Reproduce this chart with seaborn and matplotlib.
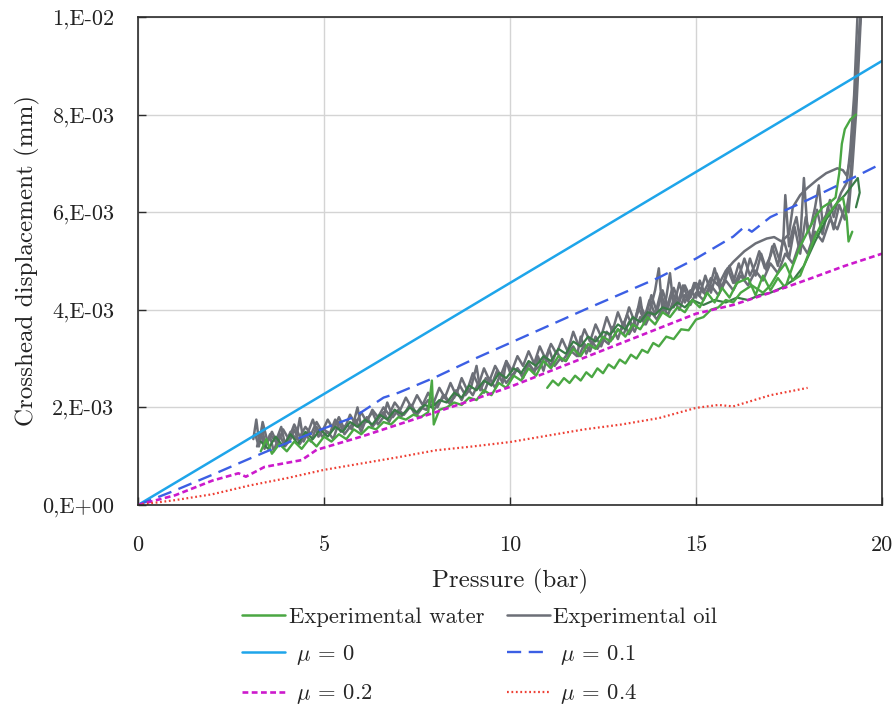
import matplotlib
matplotlib.use("Agg")
import matplotlib.pyplot as plt
from matplotlib.lines import Line2D
import numpy as np
import pandas as pd
import seaborn as sns

# ---------------------------------------------------------------------------
# Data (displacements in micrometres, i.e. 1e-3 mm; pressure in bar)
# ---------------------------------------------------------------------------
mu_0_p = [0.0, 20.0]
mu_0_um = [0.0, 9.1]

mu_01_p = [0, 1, 2, 3, 4, 5, 5.8, 6.3, 6.6, 7, 8, 9, 10, 11, 12, 13, 14, 15,
           16, 16.3, 16.5, 17, 18, 19, 20]
mu_01_um = [0, 0.30, 0.62, 0.95, 1.27, 1.57, 1.80, 2.05, 2.20, 2.30, 2.62, 2.98,
            3.32, 3.66, 4.00, 4.33, 4.66, 5.05, 5.50, 5.70, 5.60, 5.90, 6.25,
            6.62, 7.00]

mu_02_p = [0, 1, 2, 2.7, 2.9, 3.4, 4.4, 4.8, 6, 7, 7.6, 8.75, 10, 11, 12, 13,
           14, 15, 16, 17, 18, 19, 20]
mu_02_um = [0, 0.20, 0.50, 0.65, 0.58, 0.78, 0.92, 1.13, 1.40, 1.65, 1.80, 2.09,
            2.42, 2.72, 3.02, 3.32, 3.62, 3.92, 4.10, 4.35, 4.62, 4.90, 5.15]

mu_04_p = [0, 1, 2, 2.5, 3, 4, 5, 6, 7, 8, 9, 10, 11, 12, 13, 14, 15, 15.6,
           16, 17, 18]
mu_04_um = [0, 0.10, 0.22, 0.31, 0.40, 0.55, 0.72, 0.85, 0.98, 1.12, 1.20, 1.29,
            1.42, 1.55, 1.65, 1.78, 1.99, 2.05, 2.02, 2.25, 2.40]

oil_run_1 = [
    (3.10, 1.35), (3.18, 1.75), (3.26, 1.25), (3.34, 1.60), (3.42, 1.20),
    (3.55, 1.45), (3.70, 1.30), (3.85, 1.60), (3.95, 1.25), (4.10, 1.50),
    (4.25, 1.35), (4.35, 1.78), (4.45, 1.30), (4.60, 1.55), (4.70, 1.75),
    (4.85, 1.40), (5.00, 1.55), (5.15, 1.45), (5.30, 1.75), (5.45, 1.50),
    (5.60, 1.65), (5.75, 1.55), (5.90, 2.00), (6.00, 1.60), (6.15, 1.75),
    (6.30, 1.90), (6.45, 1.65), (6.60, 1.80), (6.70, 2.10), (6.85, 1.80),
    (7.00, 1.95), (7.15, 1.85), (7.30, 2.05), (7.45, 1.85), (7.60, 2.00),
    (7.75, 1.95), (7.90, 2.15), (8.05, 2.00), (8.20, 2.25), (8.35, 2.10),
    (8.50, 2.20), (8.65, 2.45), (8.80, 2.25), (8.95, 2.40), (9.10, 2.85),
    (9.20, 2.35), (9.35, 2.60), (9.50, 2.45), (9.65, 2.75), (9.80, 2.50),
    (9.90, 2.95), (10.05, 2.60), (10.20, 2.80), (10.35, 2.65), (10.50, 2.90),
    (10.65, 2.70), (10.75, 3.05), (10.90, 2.75), (11.05, 3.20), (11.20, 2.85),
    (11.35, 3.00), (11.50, 2.95), (11.65, 3.15), (11.80, 3.05), (11.90, 3.45),
    (12.05, 3.10), (12.20, 3.35), (12.35, 3.20), (12.50, 3.40), (12.65, 3.30),
    (12.75, 3.65), (12.90, 3.40), (13.05, 3.75), (13.20, 3.50), (13.35, 3.70),
    (13.50, 4.25), (13.60, 3.70), (13.75, 3.95), (13.90, 4.40), (14.00, 4.85),
    (14.10, 3.95), (14.20, 4.25), (14.30, 4.75), (14.40, 4.05), (14.55, 4.55),
    (14.70, 4.15), (14.85, 4.40), (15.00, 4.25), (15.10, 4.60), (15.25, 4.30),
    (15.40, 4.55), (15.50, 4.85), (15.65, 4.40), (15.80, 4.65), (15.90, 4.90),
    (16.05, 4.55), (16.20, 4.80), (16.30, 5.05), (16.45, 4.70), (16.60, 4.95),
    (16.70, 5.20), (16.85, 4.85), (17.00, 5.10), (17.10, 5.35), (17.25, 5.00),
    (17.35, 5.50), (17.40, 6.35), (17.50, 5.30), (17.60, 5.65), (17.70, 5.90),
    (17.80, 5.40), (17.90, 6.70), (18.00, 5.60), (18.10, 5.75), (18.20, 6.10),
    (18.30, 6.55), (18.40, 5.80), (18.50, 5.95), (18.60, 6.25), (18.70, 5.90),
    (18.80, 6.20), (18.90, 6.40), (19.05, 6.60), (19.15, 7.30), (19.25, 8.40),
    (19.30, 9.30), (19.35, 10.20), (19.40, 10.60),
]

oil_run_2 = [
    (3.20, 1.20), (3.30, 1.50), (3.40, 1.15), (3.55, 1.40), (3.65, 1.10),
    (3.80, 1.45), (3.95, 1.20), (4.10, 1.35), (4.20, 1.55), (4.35, 1.25),
    (4.50, 1.45), (4.65, 1.30), (4.80, 1.60), (4.95, 1.40), (5.10, 1.50),
    (5.25, 1.35), (5.40, 1.70), (5.55, 1.45), (5.70, 1.60), (5.85, 1.75),
    (6.00, 1.50), (6.15, 1.80), (6.30, 1.60), (6.45, 1.75), (6.60, 1.90),
    (6.75, 1.70), (6.90, 1.95), (7.05, 1.80), (7.20, 1.90), (7.35, 2.05),
    (7.50, 1.85), (7.65, 2.00), (7.80, 2.15), (7.95, 1.95), (8.10, 2.10),
    (8.25, 2.25), (8.40, 2.05), (8.55, 2.35), (8.70, 2.15), (8.85, 2.40),
    (9.00, 2.25), (9.15, 2.50), (9.30, 2.30), (9.45, 2.60), (9.60, 2.40),
    (9.75, 2.70), (9.90, 2.50), (10.05, 2.65), (10.20, 2.80), (10.35, 2.60),
    (10.50, 2.90), (10.65, 2.75), (10.80, 2.85), (10.95, 3.05), (11.10, 2.85),
    (11.25, 3.15), (11.40, 2.95), (11.55, 3.10), (11.70, 3.25), (11.85, 3.05),
    (12.00, 3.30), (12.15, 3.15), (12.30, 3.45), (12.45, 3.25), (12.60, 3.55),
    (12.75, 3.40), (12.90, 3.60), (13.05, 3.50), (13.20, 3.75), (13.35, 3.55),
    (13.50, 3.85), (13.65, 3.70), (13.80, 3.95), (13.95, 3.80), (14.10, 4.05),
    (14.25, 3.90), (14.40, 4.20), (14.55, 4.00), (14.70, 4.30), (14.85, 4.10),
    (15.00, 4.35), (15.20, 4.20), (15.40, 4.50), (15.60, 4.30), (15.80, 4.60),
    (16.00, 4.40), (16.20, 4.70), (16.40, 4.50), (16.60, 4.80), (16.80, 4.60),
    (17.00, 4.95), (17.20, 4.75), (17.40, 5.15), (17.60, 4.95), (17.80, 5.40),
    (18.00, 5.15), (18.20, 5.60), (18.40, 5.40), (18.60, 5.85), (18.80, 5.65),
    (19.00, 6.10), (19.10, 6.00), (19.20, 6.90), (19.30, 8.00), (19.38, 9.20),
    (19.45, 10.30), (19.50, 10.60),
]

oil_run_3 = [
    (3.15, 1.45), (3.25, 1.20), (3.35, 1.70), (3.48, 1.30), (3.60, 1.50),
    (3.75, 1.25), (3.90, 1.55), (4.05, 1.35), (4.20, 1.65), (4.35, 1.40),
    (4.50, 1.60), (4.65, 1.45), (4.80, 1.70), (4.95, 1.50), (5.10, 1.75),
    (5.25, 1.55), (5.40, 1.80), (5.55, 1.55), (5.70, 1.85), (5.85, 1.65),
    (6.00, 1.90), (6.15, 1.70), (6.30, 1.95), (6.45, 1.80), (6.60, 2.00),
    (6.75, 1.85), (6.90, 2.10), (7.05, 1.95), (7.20, 2.20), (7.35, 2.00),
    (7.50, 2.25), (7.65, 2.05), (7.80, 2.30), (7.95, 2.10), (8.10, 2.40),
    (8.25, 2.20), (8.40, 2.50), (8.55, 2.25), (8.70, 2.60), (8.85, 2.35),
    (9.00, 2.70), (9.15, 2.45), (9.30, 2.80), (9.45, 2.55), (9.60, 2.85),
    (9.75, 2.65), (9.90, 2.95), (10.05, 2.75), (10.20, 3.05), (10.35, 2.85),
    (10.50, 3.15), (10.65, 2.90), (10.80, 3.25), (10.95, 3.00), (11.10, 3.30),
    (11.25, 3.10), (11.40, 3.40), (11.55, 3.15), (11.70, 3.55), (11.85, 3.25),
    (12.00, 3.60), (12.15, 3.35), (12.30, 3.70), (12.45, 3.45), (12.60, 3.85),
    (12.75, 3.55), (12.90, 3.95), (13.05, 3.65), (13.20, 4.05), (13.35, 3.75),
    (13.50, 4.10), (13.65, 3.85), (13.80, 4.30), (13.95, 3.95), (14.10, 4.40),
    (14.25, 4.05), (14.40, 4.45), (14.55, 4.15), (14.70, 4.50), (14.85, 4.25),
    (15.00, 4.55), (15.20, 4.35), (15.40, 4.65), (15.60, 4.50), (15.80, 4.80),
    (16.00, 4.98), (16.30, 5.20), (16.60, 5.36), (16.90, 5.46), (17.10, 5.49),
    (17.30, 5.40), (17.50, 5.55), (17.60, 6.10), (17.80, 6.35), (18.00, 6.50),
    (18.25, 6.66), (18.50, 6.80), (18.80, 6.90), (18.95, 6.86), (19.05, 6.75),
    (19.15, 7.10), (19.25, 7.80), (19.32, 8.80), (19.40, 9.80), (19.48, 10.60),
]

oil_run_4 = [
    (13.00, 3.60), (13.15, 3.90), (13.30, 3.65), (13.45, 4.05), (13.60, 3.80),
    (13.75, 4.20), (13.90, 3.90), (14.05, 4.35), (14.20, 4.00), (14.35, 4.40),
    (14.50, 4.10), (14.65, 4.50), (14.80, 4.20), (14.95, 4.55), (15.10, 4.30),
    (15.25, 4.70), (15.40, 4.35), (15.55, 4.75), (15.70, 4.45), (15.85, 4.85),
    (16.00, 4.55), (16.15, 4.95), (16.30, 4.60), (16.45, 5.05), (16.60, 4.70),
    (16.75, 5.15), (16.90, 4.80), (17.05, 5.30), (17.20, 4.90), (17.35, 5.45),
    (17.50, 5.05), (17.65, 5.70), (17.80, 5.15), (17.95, 5.90), (18.10, 5.40),
    (18.25, 6.05), (18.40, 5.55), (18.55, 6.10), (18.70, 5.65), (18.85, 6.15),
    (19.00, 5.85), (19.10, 6.30), (19.20, 7.20), (19.30, 8.60), (19.40, 9.80),
    (19.45, 10.60),
]

water_run_1 = [
    (3.30, 1.10), (3.45, 1.35), (3.60, 1.05), (3.80, 1.25), (4.00, 1.10),
    (4.20, 1.30), (4.40, 1.15), (4.60, 1.35), (4.80, 1.20), (5.00, 1.40),
    (5.20, 1.30), (5.40, 1.45), (5.60, 1.35), (5.80, 1.55), (6.00, 1.45),
    (6.20, 1.60), (6.40, 1.55), (6.60, 1.70), (6.80, 1.65), (7.00, 1.80),
    (7.20, 1.75), (7.40, 1.85), (7.60, 1.80), (7.80, 1.90), (7.90, 2.55),
    (7.95, 1.65), (8.10, 1.95), (8.30, 2.00), (8.50, 2.10), (8.70, 2.05),
    (8.90, 2.20), (9.10, 2.15), (9.30, 2.35), (9.50, 2.25), (9.70, 2.50),
    (9.90, 2.40), (10.10, 2.65), (10.30, 2.55), (10.50, 2.80), (10.70, 2.65),
    (10.90, 2.95), (11.10, 2.80), (11.30, 3.05), (11.50, 2.95), (11.70, 3.20),
    (11.90, 3.05), (12.10, 3.30), (12.30, 3.20), (12.50, 3.45), (12.70, 3.35),
    (12.90, 3.60), (13.10, 3.45), (13.30, 3.70), (13.50, 3.60), (13.70, 3.85),
    (13.90, 3.70), (14.10, 3.95), (14.30, 3.85), (14.50, 4.05), (14.70, 3.95),
    (14.90, 4.20), (15.10, 4.05), (15.30, 4.35), (15.50, 4.15), (15.70, 4.45),
    (15.90, 4.25), (16.10, 4.55), (16.40, 4.65), (16.60, 4.30), (16.80, 4.70),
    (17.00, 4.40), (17.20, 4.65), (17.40, 4.45), (17.60, 4.90), (17.80, 5.30),
    (18.00, 5.60), (18.20, 5.90), (18.40, 6.10), (18.60, 6.20), (18.75, 6.30),
    (18.85, 6.80), (18.92, 7.40), (19.00, 7.70), (19.15, 7.90), (19.30, 8.00),
]

water_run_2 = [
    (11.00, 2.40), (11.15, 2.55), (11.30, 2.45), (11.45, 2.60), (11.60, 2.50),
    (11.75, 2.65), (11.90, 2.55), (12.05, 2.72), (12.20, 2.62), (12.35, 2.80),
    (12.50, 2.70), (12.65, 2.88), (12.80, 2.80), (12.95, 2.98), (13.10, 2.90),
    (13.25, 3.08), (13.40, 3.00), (13.55, 3.18), (13.70, 3.12), (13.85, 3.32),
    (14.00, 3.25), (14.20, 3.45), (14.40, 3.40), (14.60, 3.60), (14.80, 3.58),
    (15.00, 3.80), (15.20, 3.85), (15.40, 4.00), (15.60, 4.05), (15.80, 4.20),
    (16.00, 4.15), (16.20, 4.35), (16.50, 4.50), (16.80, 4.35), (17.00, 4.50),
    (17.20, 4.75), (17.40, 4.95), (17.60, 4.60), (17.80, 4.70), (18.00, 5.10),
    (18.20, 5.50), (18.40, 5.80), (18.60, 6.00), (18.80, 6.20), (18.95, 6.30),
    (19.05, 5.90), (19.10, 5.40), (19.20, 5.60),
]

water_run_3 = [
    (3.30, 1.30), (3.50, 1.15), (3.70, 1.40), (3.90, 1.20), (4.10, 1.45),
    (4.30, 1.25), (4.50, 1.50), (4.70, 1.35), (4.90, 1.55), (5.10, 1.40),
    (5.30, 1.60), (5.50, 1.50), (5.70, 1.70), (5.90, 1.60), (6.10, 1.75),
    (6.30, 1.65), (6.50, 1.85), (6.70, 1.75), (6.90, 1.95), (7.10, 1.85),
    (7.30, 2.00), (7.50, 1.90), (7.70, 2.05), (7.90, 2.00), (8.10, 2.15),
    (8.30, 2.10), (8.50, 2.30), (8.70, 2.20), (8.90, 2.45), (9.10, 2.35),
    (9.30, 2.55), (9.50, 2.45), (9.70, 2.70), (9.90, 2.60), (10.10, 2.80),
    (10.30, 2.70), (10.50, 2.95), (10.70, 2.85), (10.90, 3.05), (11.10, 2.95),
    (11.30, 3.20), (11.50, 3.10), (11.70, 3.35), (11.90, 3.25), (12.10, 3.45),
    (12.30, 3.35), (12.50, 3.55), (12.70, 3.50), (12.90, 3.70), (13.10, 3.60),
    (13.30, 3.85), (13.50, 3.75), (13.70, 3.95), (13.90, 3.90), (14.10, 4.05),
    (14.30, 4.00), (14.50, 4.15), (14.70, 4.05), (14.90, 4.20), (15.20, 4.10),
    (15.50, 4.20), (15.80, 4.15), (16.10, 4.25), (16.40, 4.20), (16.70, 4.30),
    (17.00, 4.35), (17.30, 4.45), (17.60, 4.60), (17.90, 4.90), (18.20, 5.40),
    (18.50, 5.85), (18.80, 6.20), (19.00, 6.35), (19.20, 6.55), (19.35, 6.70),
    (19.40, 6.40), (19.30, 6.10),
]

y_ticks_mm = [0.0, 0.002, 0.004, 0.006, 0.008, 0.010]
y_tick_labels = ["0,E+00", "2,E-03", "4,E-03", "6,E-03", "8,E-03", "1,E-02"]
x_ticks = [0, 5, 10, 15, 20]

# ---------------------------------------------------------------------------
# Style
# ---------------------------------------------------------------------------
sns.set_theme(style="whitegrid")
plt.rcParams["font.family"] = ["cmr10", "DejaVu Serif"]
plt.rcParams["mathtext.fontset"] = "cm"
plt.rcParams["axes.formatter.use_mathtext"] = True

GREEN = "#4aa743"
DARK_GREEN = "#3a7c47"
GREY = "#6c6f77"
C_MU0 = "#1ea5ea"
C_MU01 = "#3c5fe4"
C_MU02 = "#cc1acc"
C_MU04 = "#ee4035"

fig = plt.figure(figsize=(8.95, 7.05), dpi=100)
ax = fig.add_axes([0.1542, 0.2837, 0.8313, 0.6922])


def to_frame(run):
    df = pd.DataFrame(run, columns=["pressure", "disp_um"])
    df["disp_mm"] = df["disp_um"] / 1000.0
    return df


def draw(df, color, lw, **kw):
    sns.lineplot(data=df, x="pressure", y="disp_mm", sort=False, estimator=None,
                 color=color, linewidth=lw, ax=ax, legend=False, **kw)


# experimental oil runs
for run in (oil_run_2, oil_run_4, oil_run_3, oil_run_1):
    draw(to_frame(run), GREY, 1.8)

# experimental water runs
draw(to_frame(water_run_3), DARK_GREEN, 1.6)
draw(to_frame(water_run_2), GREEN, 1.7)
draw(to_frame(water_run_1), GREEN, 1.7)

# friction models
models = [
    (mu_0_p, mu_0_um, C_MU0, None, 1.8),
    (mu_01_p, mu_01_um, C_MU01, (6, 3.2), 1.7),
    (mu_02_p, mu_02_um, C_MU02, (2.2, 1.3), 1.9),
    (mu_04_p, mu_04_um, C_MU04, (0.8, 1.2), 1.6),
]
for p, d, c, dash, lw in models:
    df = pd.DataFrame({"pressure": p, "disp_mm": np.array(d) / 1000.0})
    kw = {}
    if dash is not None:
        kw["dashes"] = dash
    draw(df, c, lw, **kw)

ax.set_xlim(0, 20)
ax.set_ylim(0, 0.010)
ax.set_xticks(x_ticks)
ax.set_xticklabels([str(t) for t in x_ticks])
ax.set_yticks(y_ticks_mm)
ax.set_yticklabels(y_tick_labels)

ax.grid(True, color="#d4d4d4", linewidth=1.0)
for s in ax.spines.values():
    s.set_visible(True)
    s.set_color("#2b2b2b")
    s.set_linewidth(1.2)

ax.tick_params(axis="x", direction="in", length=6, width=1.0, color="#2b2b2b",
               labelsize=16, pad=22, bottom=True)
ax.tick_params(axis="y", direction="in", length=6, width=1.0, color="#2b2b2b",
               labelsize=16, pad=17, left=True)
for lab in ax.get_xticklabels() + ax.get_yticklabels():
    lab.set_color("#222222")

ax.set_xlabel("Pressure (bar)", fontsize=18, color="#222222", labelpad=10)
ax.set_ylabel("Crosshead displacement (mm)", fontsize=18, color="#222222",
              labelpad=2)

handles = [
    Line2D([], [], color=GREEN, lw=1.8),
    Line2D([], [], color=C_MU0, lw=1.8),
    Line2D([], [], color=C_MU02, lw=1.9, ls="--", dashes=(2.2, 1.3)),
    Line2D([], [], color=GREY, lw=1.8),
    Line2D([], [], color=C_MU01, lw=1.7, ls="--", dashes=(6, 3.2)),
    Line2D([], [], color=C_MU04, lw=1.6, ls=":", dashes=(0.8, 1.2)),
]
labels = [
    "Experimental water",
    r" $\mu$ = 0",
    r" $\mu$ = 0.2",
    "Experimental oil",
    r" $\mu$ = 0.1",
    r" $\mu$ = 0.4",
]
fig.legend(handles, labels, ncol=2, loc="upper center",
           bbox_to_anchor=(0.536, 0.168), frameon=False, fontsize=16.3,
           handlelength=1.9, handletextpad=0.15, columnspacing=1.0,
           labelspacing=0.70)

fig.savefig("out.png", dpi=100)
